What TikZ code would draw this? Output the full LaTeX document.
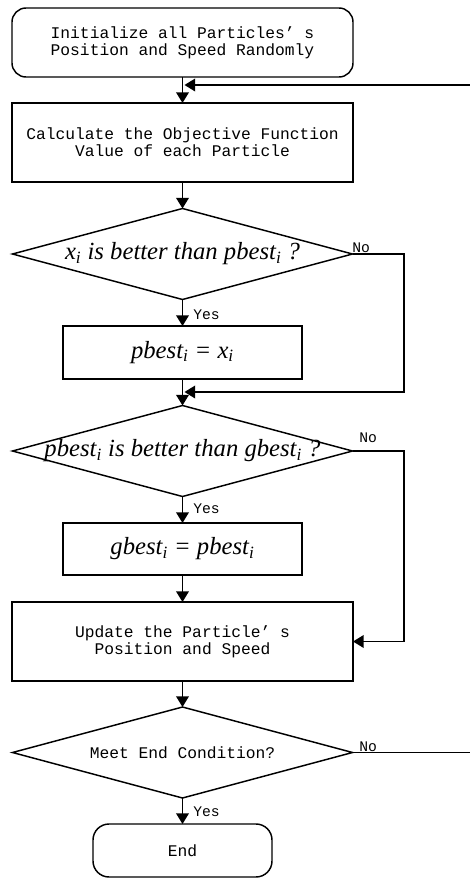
\documentclass[tikz,border=0pt]{standalone}
\usepackage{fontspec}
\setmonofont{Liberation Mono}
\newfontfamily\tms{Liberation Serif}
\usetikzlibrary{shapes.geometric,arrows.meta}
\newdimen\pxu
\pxu=0.75pt
\begin{document}
\begin{tikzpicture}[x=0.75pt,y=-0.75pt,
  ln/.style={line width=1.1pt},
  arr/.style={ln,-{Triangle[length=8pt,width=9.5pt]}},
  box/.style={draw,ln,rectangle,inner sep=0pt,outer sep=0pt,align=center,
    font=\ttfamily\fontsize{12.2}{12.6}\selectfont},
  term/.style={box,rounded corners=14\pxu},
  dec/.style={draw,ln,diamond,inner sep=0pt,outer sep=0pt,
    minimum width=340\pxu,minimum height=91\pxu},
  mth/.style={font=\tms\itshape\fontsize{18.5}{20}\selectfont},
  lbl/.style={inner sep=0pt,font=\ttfamily\fontsize{11}{12}\selectfont}]
\useasboundingbox (0,0) rectangle (470,878);

\node[term,minimum width=341\pxu,minimum height=69\pxu] (start) at (182.5,42.5)
  {Initialize all Particles’ s\\Position and Speed Randomly};
\node[box,minimum width=341\pxu,minimum height=79\pxu] (calc) at (182.5,142.5)
  {Calculate the Objective Function\\Value of each Particle};
\node[dec,mth] (d1) at (182.5,254)
  {\makebox[0pt]{x\textsubscript{i} is better than pbest\textsubscript{i} ?}};
\node[box,mth,minimum width=239\pxu,minimum height=53\pxu] (pb) at (182.5,352.5)
  {pbest\textsubscript{i} = x\textsubscript{i}};
\node[dec,mth] (d2) at (182.5,451)
  {\makebox[0pt]{pbest\textsubscript{i} is better than gbest\textsubscript{i} ?}};
\node[box,mth,minimum width=239\pxu,minimum height=52\pxu] (gb) at (182.5,549)
  {gbest\textsubscript{i} = pbest\textsubscript{i}};
\node[box,minimum width=341\pxu,minimum height=79\pxu] (upd) at (182.5,641.5)
  {Update the Particle’ s\\Position and Speed};
\node[dec,font=\ttfamily\fontsize{12.2}{12.6}\selectfont] (d3) at (182.5,752.5)
  {\makebox[0pt]{Meet End Condition?}};
\node[term,rounded corners=16\pxu,minimum width=179\pxu,minimum height=53\pxu] (end) at (182.5,850.5)
  {End};

\coordinate (rx) at (404,0);
\coordinate (fbR) at (480,752.5);
\coordinate (fbL) at (184.5,85);
\coordinate (m1) at (184.5,392);

\draw[arr] (start) -- (calc);
\draw[arr] (calc) -- (d1);
\draw[arr] (d1) -- (pb);
\draw[arr] (pb) -- (d2);
\draw[arr] (d2) -- (gb);
\draw[arr] (gb) -- (upd);
\draw[arr] (upd) -- (d3);
\draw[arr] (d3) -- (end);

\draw[arr] (d1.east) -- (d1.east -| rx) |- (m1);
\draw[arr] (d2.east) -- (d2.east -| rx) |- (upd.east);
\draw[arr] (d3.east) -- (fbR) |- (fbL);

\node[lbl,anchor=base west] (no1) at (352,252) {No};
\node[lbl,anchor=base west] (yes1) at (193,319) {Yes};
\node[lbl,anchor=base west] (no2) at (359,442) {No};
\node[lbl,anchor=base west] (yes2) at (193,513) {Yes};
\node[lbl,anchor=base west] (no3) at (359,751) {No};
\node[lbl,anchor=base west] (yes3) at (193,816) {Yes};
\end{tikzpicture}
\end{document}
